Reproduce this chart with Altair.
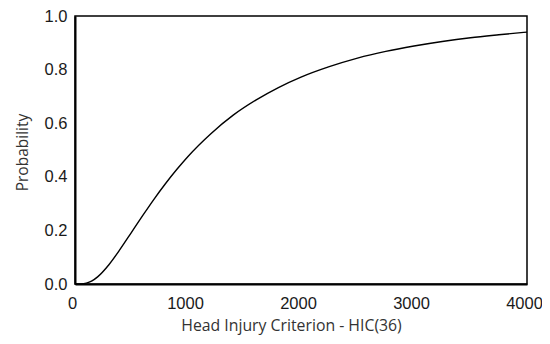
import altair as alt
import pandas as pd

hic = [0, 50, 100, 150, 200, 300, 400, 500, 600, 700, 800, 900, 1000, 1200, 1400,
       1600, 1800, 2000, 2250, 2500, 2750, 3000, 3250, 3500, 3750, 4000]
prob = [0.0, 0.0002, 0.0031, 0.0117, 0.0267, 0.072, 0.130, 0.193, 0.256, 0.317, 0.374,
        0.427, 0.476, 0.560, 0.630, 0.686, 0.733, 0.772, 0.811, 0.843, 0.868, 0.888,
        0.905, 0.919, 0.930, 0.940]

x_ticks = [0, 1000, 2000, 3000, 4000]
y_ticks = [0.0, 0.2, 0.4, 0.6, 0.8, 1.0]

df = pd.DataFrame({"hic": hic, "prob": prob})

chart = alt.Chart(df).mark_line(color="black", strokeWidth=1.4, interpolate="monotone").encode(
    x=alt.X("hic:Q", scale=alt.Scale(domain=[0, 4000], nice=False),
            axis=alt.Axis(values=x_ticks, format="d", ticks=False, grid=False,
                          domainColor="black", domainWidth=2, labelPadding=11,
                          labelFlush=False, labelOffset=-3,
                          labelFont="Liberation Sans", labelFontSize=16.5, labelColor="#1a1a1a",
                          title="Head Injury Criterion - HIC(36)", titleFont="Open Sans",
                          titleFontSize=15.8, titleFontWeight="normal", titleColor="#333",
                          titlePadding=7, titleX=216)),
    y=alt.Y("prob:Q", scale=alt.Scale(domain=[0, 1], nice=False),
            axis=alt.Axis(values=y_ticks, format=".1f", ticks=False, grid=False,
                          domainColor="black", domainWidth=2, labelPadding=8,
                          labelFlush=False,
                          labelFont="Liberation Sans", labelFontSize=16.5, labelColor="#1a1a1a",
                          title="Probability", titleFont="Open Sans",
                          titleFontSize=15.5, titleFontWeight="normal", titleColor="#333",
                          titlePadding=14, titleY=136)),
).properties(
    width=452, height=268,
    autosize="none",
    padding={"left": 67, "top": 8, "right": 15, "bottom": 58},
).configure_view(stroke="black", strokeWidth=1.5)

chart.save("out.html", embed_options={"renderer": "svg", "actions": False})
